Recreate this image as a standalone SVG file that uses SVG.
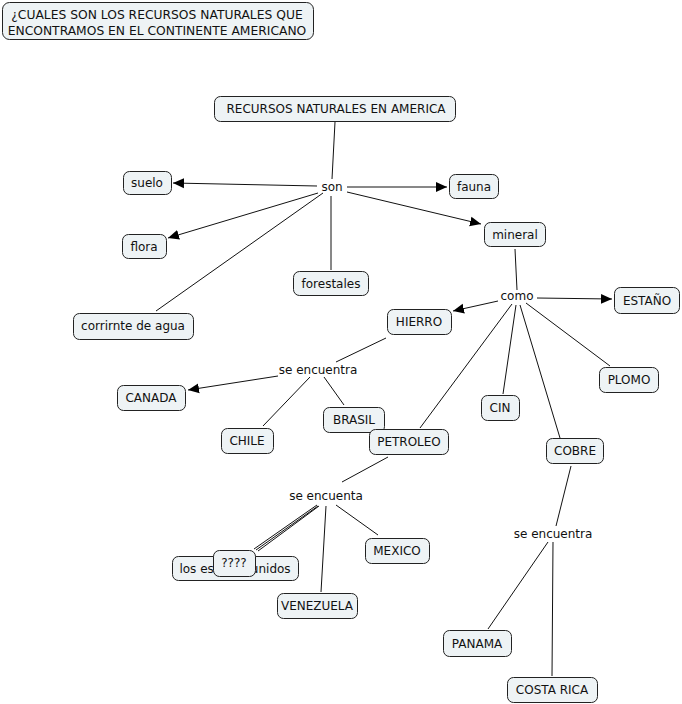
<svg xmlns="http://www.w3.org/2000/svg" width="682" height="704" viewBox="0 0 682 704">
<style>
.n rect{fill:#eef3f5;stroke:#222;stroke-width:1;}
text{font-family:"DejaVu Sans","Verdana",sans-serif;font-size:12px;fill:#111;text-anchor:middle;}
.c line{stroke:#111;stroke-width:1;}
.a{marker-end:url(#ar);}
</style>
<defs>
<marker id="ar" viewBox="0 0 10 10" refX="10" refY="5" markerWidth="11" markerHeight="11" markerUnits="userSpaceOnUse" orient="auto">
<path d="M0,0.5 L10,5 L0,9.5 Z" fill="#000"/>
</marker>
</defs>
<rect width="682" height="704" fill="#fff"/>
<g class="c">
<line x1="335" y1="122" x2="332" y2="179"/>
<line class="a" x1="317" y1="186" x2="173" y2="183"/>
<line class="a" x1="347" y1="187" x2="447" y2="187"/>
<line class="a" x1="318" y1="193" x2="168" y2="238"/>
<line x1="331" y1="196" x2="331" y2="270"/>
<line x1="323" y1="193" x2="156" y2="311"/>
<line class="a" x1="347" y1="192" x2="481" y2="224"/>
<line x1="515" y1="249" x2="517" y2="290"/>
<line class="a" x1="537" y1="298" x2="612" y2="299"/>
<line class="a" x1="498" y1="301" x2="453" y2="311"/>
<line x1="526" y1="303" x2="610" y2="366"/>
<line x1="516" y1="305" x2="503" y2="394"/>
<line x1="520" y1="305" x2="560" y2="438"/>
<line x1="512" y1="304" x2="420" y2="428"/>
<line x1="386" y1="338" x2="336" y2="362"/>
<line class="a" x1="278" y1="376" x2="188" y2="390"/>
<line x1="310" y1="377" x2="263" y2="426"/>
<line x1="324" y1="377" x2="344" y2="405"/>
<line x1="388" y1="457" x2="342" y2="482"/>
<line x1="317" y1="505" x2="254" y2="549"/>
<line x1="318" y1="506" x2="256" y2="550"/>
<line x1="319" y1="506" x2="258" y2="551"/>
<line x1="336" y1="505" x2="378" y2="535"/>
<line x1="326" y1="506" x2="321" y2="592"/>
<line x1="571" y1="466" x2="556" y2="526"/>
<line x1="548" y1="542" x2="488" y2="629"/>
<line x1="553" y1="542" x2="552" y2="676"/>
</g>
<g id="title" class="n"><rect x="2.5" y="2.5" width="311" height="37" rx="7"/><text x="157" y="19" style="font-size:12.3px">¿CUALES SON LOS RECURSOS NATURALES QUE</text><text x="157" y="35" style="font-size:12.3px">ENCONTRAMOS EN EL CONTINENTE AMERICANO</text></g>
<g id="recursos" class="n"><rect x="214.5" y="96.5" width="241" height="25" rx="6"/><text x="336" y="113">RECURSOS NATURALES EN AMERICA</text></g>
<g id="son"><text x="332" y="191">son</text></g>
<g id="suelo" class="n"><rect x="123.5" y="171.5" width="48" height="23" rx="6"/><text x="147" y="187">suelo</text></g>
<g id="fauna" class="n"><rect x="449.5" y="174.5" width="49" height="24" rx="6"/><text x="474" y="191">fauna</text></g>
<g id="flora" class="n"><rect x="122.5" y="234.5" width="44" height="24" rx="6"/><text x="144" y="251">flora</text></g>
<g id="forestales" class="n"><rect x="293.5" y="271.5" width="75" height="24" rx="6"/><text x="331" y="288">forestales</text></g>
<g id="corriente" class="n"><rect x="73.5" y="313.5" width="120" height="26" rx="6"/><text x="133" y="330">corrirnte de agua</text></g>
<g id="mineral" class="n"><rect x="484.5" y="222.5" width="61" height="24" rx="6"/><text x="515" y="239">mineral</text></g>
<g id="como"><text x="517" y="300">como</text></g>
<g id="estano" class="n"><rect x="614.5" y="287.5" width="65" height="26" rx="6"/><text x="647" y="305">ESTAÑO</text></g>
<g id="hierro" class="n"><rect x="387.5" y="309.5" width="64" height="25" rx="6"/><text x="419" y="326">HIERRO</text></g>
<g id="plomo" class="n"><rect x="599.5" y="367.5" width="59" height="25" rx="6"/><text x="629" y="384">PLOMO</text></g>
<g id="cin" class="n"><rect x="481.5" y="395.5" width="38" height="25" rx="6"/><text x="500" y="412">CIN</text></g>
<g id="se1"><text x="318" y="374">se encuentra</text></g>
<g id="canada" class="n"><rect x="117.5" y="385.5" width="68" height="25" rx="6"/><text x="151" y="402">CANADA</text></g>
<g id="chile" class="n"><rect x="221.5" y="428.5" width="52" height="25" rx="6"/><text x="247" y="445">CHILE</text></g>
<g id="brasil" class="n"><rect x="323.5" y="407.5" width="61" height="25" rx="6"/><text x="354" y="424">BRASIL</text></g>
<g id="petroleo" class="n"><rect x="369.5" y="429.5" width="79" height="25" rx="6"/><text x="409" y="446">PETROLEO</text></g>
<g id="cobre" class="n"><rect x="546.5" y="438.5" width="57" height="25" rx="6"/><text x="575" y="455">COBRE</text></g>
<g id="se2"><text x="326" y="500">se encuenta</text></g>
<g id="eeuu" class="n"><rect x="172.5" y="556.5" width="126" height="24" rx="6"/><text x="235" y="573">los estados unidos</text></g>
<g id="q" class="n"><rect x="213.5" y="550.5" width="42" height="26" rx="6"/><text x="234" y="567">????</text></g>
<g id="mexico" class="n"><rect x="365.5" y="538.5" width="64" height="25" rx="6"/><text x="397" y="555">MEXICO</text></g>
<g id="venezuela" class="n"><rect x="277.5" y="593.5" width="80" height="25" rx="6"/><text x="317" y="610">VENEZUELA</text></g>
<g id="se3"><text x="553" y="538">se encuentra</text></g>
<g id="panama" class="n"><rect x="443.5" y="630.5" width="68" height="26" rx="6"/><text x="477" y="648">PANAMA</text></g>
<g id="costarica" class="n"><rect x="507.5" y="677.5" width="90" height="25" rx="6"/><text x="552" y="694">COSTA RICA</text></g>
</svg>
